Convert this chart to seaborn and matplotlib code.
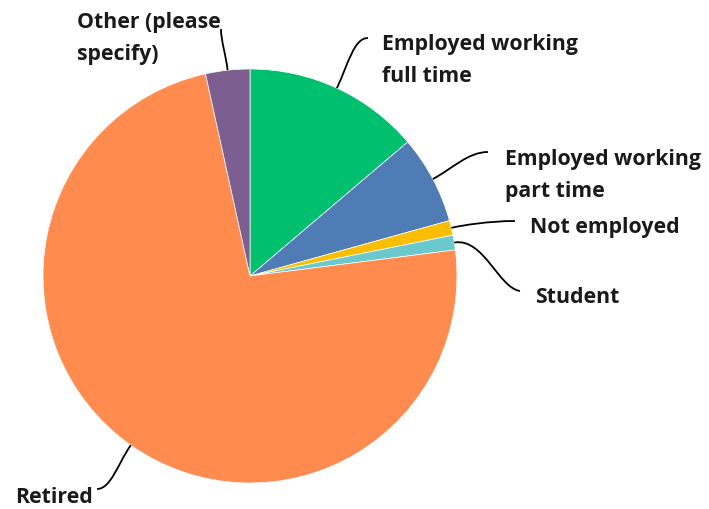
import numpy as np
import matplotlib
matplotlib.use("Agg")
import matplotlib.pyplot as plt
from matplotlib.path import Path
from matplotlib.patches import PathPatch
import seaborn as sns

categories = ["Employed working full time", "Employed working part time",
              "Not employed", "Student", "Retired", "Other (please specify)"]
values = [13.79, 6.90, 1.15, 1.15, 73.56, 3.45]
label_lines = [["Employed working", "full time"],
               ["Employed working", "part time"],
               ["Not employed"],
               ["Student"],
               ["Retired"],
               ["Other (please", "specify)"]]
colors = ["#00BF6F", "#507CB6", "#F9BE00", "#6BC8CD", "#FF8B4F", "#7D5E90"]

sns.set_theme(style="white")
plt.rcParams['font.family'] = ['Open Sans', 'DejaVu Sans']

W, H = 709, 510
fig = plt.figure(figsize=(W / 100, H / 100), dpi=100)
ax = fig.add_axes([0, 0, 1, 1])
ax.set_xlim(0, W)
ax.set_ylim(0, H)
ax.set_aspect('equal')
ax.axis('off')

cx, cy, R = 250, 277, 207  # pixel coords (y down)
wedges, _ = ax.pie(values, colors=colors, startangle=90, counterclock=False,
                   center=(cx, H - cy), radius=R,
                   wedgeprops=dict(edgecolor='white', linewidth=0.5))
ax.set_xlim(0, W)
ax.set_ylim(0, H)

# label layout: (x, first baseline y, end point of leader, end direction, L1, L2)
layout = [
    (382, 50, (368, 39), (1, 0), 28, 14),
    (505, 165, (488, 153), (1, 0), 22, 20),
    (530, 233, (515, 222), (1, 0), 12, 25),
    (535, 303, (520, 292), (1, 0.15), 30, 22),
    (15, 503, (97, 490), (-1, 0), 22, 14),
    (77, 28, (221, 30), (0, -1), 15, 12),
]

for w, lines, (lx, ly, end, edir, L1, L2) in zip(wedges, label_lines, layout):
    mid = np.deg2rad((w.theta1 + w.theta2) / 2)
    ux, uy = np.cos(mid), np.sin(mid)  # data coords (y up)
    p0 = np.array([cx + R * ux, (H - cy) + R * uy])
    p3 = np.array([end[0], H - end[1]])
    d = np.array([edir[0], -edir[1]], dtype=float)
    d /= np.linalg.norm(d)
    p1 = p0 + np.array([ux, uy]) * L1
    p2 = p3 - d * L2
    path = Path([p0, p1, p2, p3], [Path.MOVETO, Path.CURVE4, Path.CURVE4, Path.CURVE4])
    ax.add_patch(PathPatch(path, fill=False, edgecolor='black', linewidth=1.3))
    for i, t in enumerate(lines):
        ax.text(lx, H - (ly + 32 * i), t, fontsize=15.3, fontweight='bold',
                color='#1a1a1a', ha='left', va='baseline')

fig.savefig("out.png", dpi=100, facecolor='white')
